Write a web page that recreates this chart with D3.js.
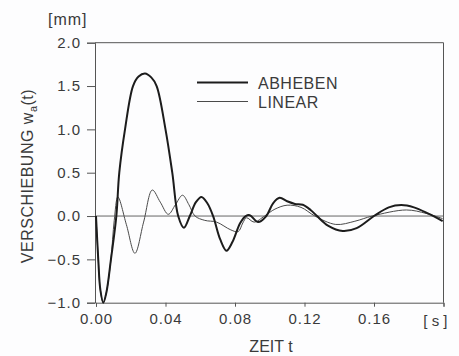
<!DOCTYPE html>
<html>
<head>
<meta charset="utf-8">
<script src="https://cdn.jsdelivr.net/npm/d3@7"></script>
<style>
  body { margin: 0; background: #fdfdfe; }
  svg { display: block; font-family: "Liberation Sans", Arial, sans-serif; }
</style>
</head>
<body>
<svg width="459" height="356"></svg>
<script>
// ABHEBEN (thick)
const tAbheben = [0, 0.0013, 0.0025, 0.0042, 0.006, 0.0086, 0.0117, 0.0134, 0.0167, 0.0213, 0.0245, 0.0282, 0.0318, 0.0349, 0.040, 0.0439, 0.0473, 0.0506, 0.054, 0.0575, 0.0607, 0.064, 0.0674, 0.0715, 0.0751, 0.0785, 0.083, 0.0862, 0.0885, 0.0933, 0.098, 0.102, 0.1057, 0.110, 0.1145, 0.119, 0.1235, 0.1272, 0.1335, 0.142, 0.150, 0.160, 0.1685, 0.1757, 0.183, 0.191, 0.1995];
const vAbheben = [0, -0.5, -0.85, -1.0, -0.88, -0.5, 0, 0.5, 1.0, 1.5, 1.61, 1.645, 1.60, 1.5, 1.0, 0.5, 0, -0.135, 0, 0.16, 0.22, 0.15, 0, -0.27, -0.40, -0.30, -0.08, 0.0, 0.01, -0.07, 0.0, 0.15, 0.21, 0.17, 0.14, 0.13, 0.07, 0, -0.11, -0.173, -0.14, 0, 0.1, 0.127, 0.10, 0.03, -0.058];

// LINEAR (thin)
const tLinear = [0, 0.0013, 0.0025, 0.0042, 0.006, 0.0086, 0.0105, 0.0126, 0.0175, 0.0224, 0.0274, 0.0324, 0.037, 0.0416, 0.0457, 0.0498, 0.0535, 0.057, 0.0626, 0.0694, 0.0776, 0.0818, 0.0845, 0.0866, 0.091, 0.097, 0.103, 0.110, 0.118, 0.126, 0.138, 0.149, 0.159, 0.1786, 0.190, 0.1995];
const vLinear = [0, -0.5, -0.85, -1.0, -0.88, -0.5, -0.05, 0.22, -0.1, -0.43, -0.07, 0.30, 0.16, 0.02, 0.13, 0.24, 0.13, 0, -0.05, -0.07, -0.16, -0.18, -0.08, -0.02, -0.07, 0, 0.08, 0.125, 0.10, 0, -0.097, -0.06, 0, 0.07, 0.03, -0.03];

const xTicks = [0, 0.04, 0.08, 0.12, 0.16, 0.2];
const yTicks = [-1.0, -0.5, 0.0, 0.5, 1.0, 1.5, 2.0];
const seriesNames = ['ABHEBEN', 'LINEAR'];

const svg = d3.select('svg');
const ink = '#3a3a3a';

const x = d3.scaleLinear().domain([0, 0.2]).range([96, 443.5]);
const y = d3.scaleLinear().domain([-1, 2]).range([302.7, 42.7]);

// frame
svg.append('path')
  .attr('d', `M${x(0) - 1},${y(2)}H${x(0.2)}V${y(-1)}`)
  .attr('fill', 'none').attr('stroke', '#555').attr('stroke-width', 1);

// zero line
svg.append('line')
  .attr('x1', x(0)).attr('x2', x(0.2))
  .attr('y1', y(0)).attr('y2', y(0))
  .attr('stroke', '#666').attr('stroke-width', 1);

const yAxis = svg.append('g')
  .attr('transform', `translate(${x(0) - 1},0)`)
  .call(d3.axisLeft(y).tickValues(yTicks).tickSize(8).tickPadding(6).tickFormat(d3.format('.1f')));
const xAxis = svg.append('g')
  .attr('transform', `translate(0,${y(-1)})`)
  .call(d3.axisBottom(x).tickValues(xTicks).tickSize(4).tickPadding(7)
    .tickFormat(d => d === 0.2 ? '' : d3.format('.2f')(d)));

[yAxis, xAxis].forEach(a => {
  a.select('.domain').attr('stroke', '#555');
  a.selectAll('.tick line').attr('stroke', '#555');
  a.selectAll('.tick text')
    .attr('fill', ink)
    .style('font-size', '15px')
    .style('letter-spacing', '1px')
    .style('font-family', '"Liberation Sans", Arial, sans-serif');
});

const line = d3.line()
  .x(d => x(d[0]))
  .y(d => y(d[1]))
  .curve(d3.curveCatmullRom.alpha(0.5));

svg.append('path')
  .datum(d3.zip(tLinear, vLinear))
  .attr('d', line)
  .attr('fill', 'none')
  .attr('stroke', '#4a4a4a')
  .attr('stroke-width', 1);

svg.append('path')
  .datum(d3.zip(tAbheben, vAbheben))
  .attr('d', line)
  .attr('fill', 'none')
  .attr('stroke', '#1c1c1c')
  .attr('stroke-width', 2);

// legend
const legend = svg.append('g');
seriesNames.forEach((name, i) => {
  const ly = 82.5 + i * 19;
  legend.append('line')
    .attr('x1', 197).attr('x2', 248)
    .attr('y1', ly).attr('y2', ly)
    .attr('stroke', i === 0 ? '#1c1c1c' : '#4a4a4a')
    .attr('stroke-width', i === 0 ? 2 : 1);
  legend.append('text')
    .attr('x', 258).attr('y', ly + 6)
    .attr('fill', ink)
    .style('font-size', '16px')
    .style('letter-spacing', '0.5px')
    .text(name);
});

// units and titles
svg.append('text')
  .attr('x', 48).attr('y', 25)
  .attr('fill', ink).style('font-size', '16px').style('letter-spacing', '1px')
  .text('[mm]');

svg.append('text')
  .attr('x', x(0.2) + 4).attr('y', 326)
  .attr('text-anchor', 'end')
  .attr('fill', ink).style('font-size', '15px')
  .attr('xml:space', 'preserve')
  .text('[ s ]');

svg.append('text')
  .attr('x', 271).attr('y', 352)
  .attr('text-anchor', 'middle')
  .attr('fill', ink).style('font-size', '16px')
  .text('ZEIT t');

const yl = svg.append('text')
  .attr('transform', 'translate(33,176) rotate(-90)')
  .attr('text-anchor', 'middle')
  .attr('fill', ink).style('font-size', '16px').style('letter-spacing', '0.5px');
yl.append('tspan').text('VERSCHIEBUNG w');
yl.append('tspan').attr('dy', 4).style('font-size', '11px').text('a');
yl.append('tspan').attr('dy', -4).text('(t)');
</script>
</body>
</html>
